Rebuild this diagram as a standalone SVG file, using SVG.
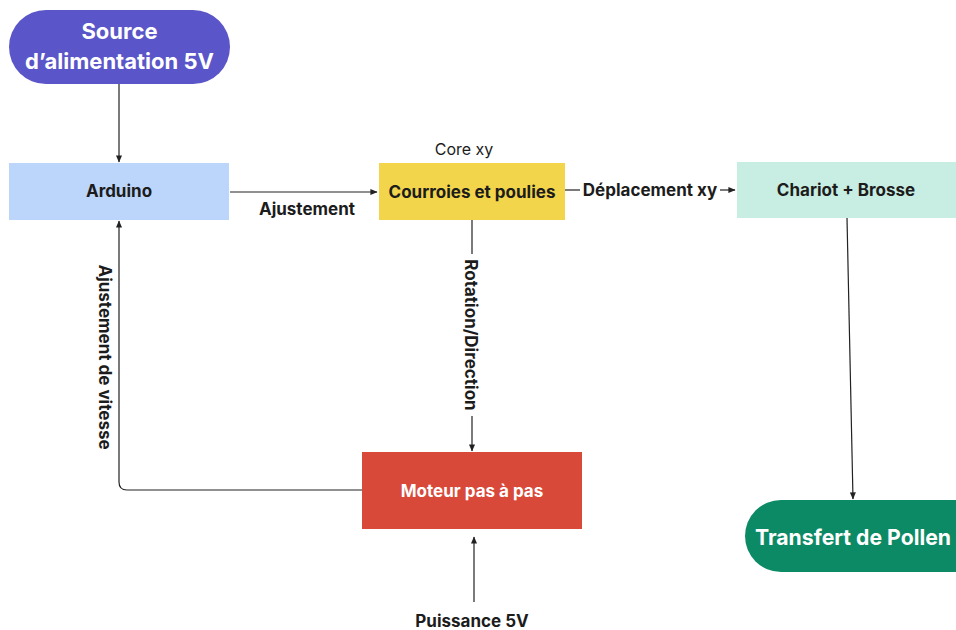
<svg xmlns="http://www.w3.org/2000/svg" width="956" height="630" viewBox="0 0 956 630">
<style>
text{font-family:Inter,"Liberation Sans",sans-serif;fill:#1c1c1c}
.b{font-weight:700;font-size:17px}
.w{fill:#fff}
.big{font-weight:700;font-size:22px}
.e{stroke:#222;stroke-width:1.2;fill:none}
</style>
<defs>
<marker id="a" viewBox="0 0 6 6" refX="5.5" refY="3" markerWidth="6" markerHeight="6" orient="auto"><path d="M0,0.5L6,3L0,5.5z" fill="#222"/></marker>
</defs>
<rect width="956" height="630" fill="#fff"/>
<g id="source"><rect x="9" y="10" width="221" height="74" rx="37" fill="#5a55c8"/>
<text class="big w" x="119.5" y="39" text-anchor="middle">Source</text>
<text class="big w" x="119.5" y="69" text-anchor="middle">d’alimentation 5V</text></g>
<g id="arduino"><rect x="9" y="163" width="220" height="57" fill="#bcd6fb"/>
<text class="b" x="119" y="197" text-anchor="middle">Arduino</text></g>
<g id="courroies"><rect x="379" y="163" width="186" height="57" fill="#f3d54c"/>
<text class="b" x="472" y="198" text-anchor="middle">Courroies et poulies</text></g>
<g id="core"><text x="464" y="155" font-size="16" text-anchor="middle">Core xy</text></g>
<g id="chariot"><rect x="737" y="162" width="219" height="56" fill="#c8ede2"/>
<text class="b" x="846" y="196" text-anchor="middle">Chariot + Brosse</text></g>
<g id="moteur"><rect x="362" y="452" width="220" height="77" fill="#d8493a"/>
<text class="b w" x="472" y="497" text-anchor="middle">Moteur pas à pas</text></g>
<g id="transfert"><path d="M781,500H956V572H781A36,36 0 0 1 781,500Z" fill="#0b8a65"/>
<text class="big w" x="755" y="545" textLength="196" lengthAdjust="spacingAndGlyphs">Transfert de Pollen</text></g>
<g id="puissance"><text class="b" x="472" y="627" text-anchor="middle">Puissance 5V</text></g>
<g id="connectors">
<path class="e" d="M119,84V162" marker-end="url(#a)"/>
<path class="e" d="M230,192H377" marker-end="url(#a)"/>
<text class="b" x="307" y="215" text-anchor="middle">Ajustement</text>
<path class="e" d="M565,190H580"/>
<text class="b" x="650" y="196" text-anchor="middle">Déplacement xy</text>
<path class="e" d="M720,190H735" marker-end="url(#a)"/>
<path class="e" d="M847,218L853,499" marker-end="url(#a)"/>
<path class="e" d="M472,220V254"/>
<text class="b" transform="translate(465,335) rotate(90)" text-anchor="middle">Rotation/Direction</text>
<path class="e" d="M472,416V451" marker-end="url(#a)"/>
<path class="e" d="M362,490H127Q119,490 119,482V221" marker-end="url(#a)"/>
<text class="b" transform="translate(99,357) rotate(90)" text-anchor="middle">Ajustement de vitesse</text>
<path class="e" d="M474,602V537" marker-end="url(#a)"/>
</g>
</svg>
